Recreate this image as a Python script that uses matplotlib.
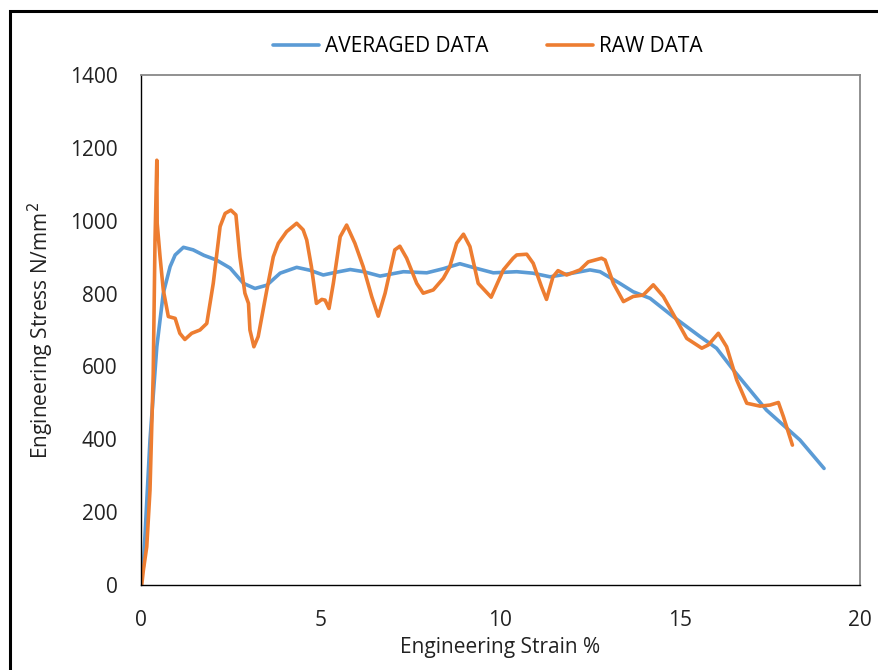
import matplotlib.pyplot as plt
from matplotlib.patches import Rectangle

plt.rcParams['font.family'] = ['Open Sans', 'DejaVu Sans']

# averaged curve (strain %, stress N/mm2)
avg_strain = [0.0, 0.065, 0.25, 0.44, 0.62, 0.81, 0.95, 1.18, 1.45, 1.75, 2.1, 2.48, 2.85,
              3.17, 3.5, 3.87, 4.33, 4.7, 5.07, 5.4, 5.82, 6.2, 6.65, 7.3, 7.95, 8.4,
              8.87, 9.3, 9.8, 10.45, 10.9, 11.38, 12.0, 12.49, 12.77, 13.32, 13.69,
              14.16, 14.8, 15.55, 16.01, 16.48, 17.4, 18.33, 19.0]
avg_stress = [20, 50, 398, 654, 801, 874, 906, 927, 920, 905, 892, 870, 828,
              814, 823, 856, 872, 864, 851, 858, 866, 860, 848, 860, 857, 868,
              882, 870, 857, 860, 856, 846, 856, 865, 860, 828, 805,
              787, 737, 682, 650, 590, 480, 398, 320]

# raw curve
raw_strain = [0.02, 0.065, 0.16, 0.25, 0.34, 0.39, 0.44, 0.45, 0.53, 0.62, 0.76, 0.95,
              1.08, 1.22, 1.41, 1.64, 1.83, 2.01, 2.2, 2.34, 2.5, 2.64, 2.75, 2.89,
              2.99, 3.03, 3.14, 3.26, 3.5, 3.68, 3.82, 4.05, 4.33, 4.51, 4.61, 4.74,
              4.88, 5.03, 5.12, 5.23, 5.35, 5.54, 5.72, 5.95, 6.18, 6.42, 6.6, 6.79,
              7.06, 7.2, 7.39, 7.67, 7.85, 8.13, 8.41, 8.59, 8.78, 8.97, 9.15, 9.38,
              9.74, 10.08, 10.35, 10.45, 10.73, 10.91, 11.14, 11.28, 11.46, 11.6, 11.84,
              12.21, 12.44, 12.81, 12.91, 13.04, 13.14, 13.42, 13.69, 13.97, 14.25,
              14.53, 14.9, 15.18, 15.6, 15.78, 16.06, 16.29, 16.57, 16.85, 17.22,
              17.5, 17.73, 17.87, 18.12]
raw_stress = [0, 40, 105, 260, 580, 947, 1166, 993, 901, 810, 737, 732,
              691, 674, 691, 700, 718, 828, 984, 1020, 1029, 1016, 901, 801,
              773, 700, 654, 682, 810, 901, 938, 970, 993, 975, 947, 874,
              773, 784, 782, 759, 828, 956, 988, 938, 874, 791, 738, 801,
              920, 930, 897, 828, 801, 810, 842, 874, 938, 963, 929, 828,
              790, 865, 897, 906, 908, 883, 819, 784, 846, 863, 851,
              865, 887, 897, 892, 856, 828, 778, 792, 796, 824,
              792, 727, 677, 650, 659, 691, 654, 563, 499, 491,
              494, 501, 462, 384]

xticks = [0, 5, 10, 15, 20]
yticks = [0, 200, 400, 600, 800, 1000, 1200, 1400]

fig = plt.figure(figsize=(8.79, 6.7), dpi=100)
ax = fig.add_axes([141/879, 1 - 585/670, (860 - 141)/879, (585 - 75)/670])

l1, = ax.plot(avg_strain, avg_stress, color='#5B9BD5', lw=2.6, label='AVERAGED DATA',
              solid_capstyle='round', solid_joinstyle='round')
l2, = ax.plot(raw_strain, raw_stress, color='#ED7D31', lw=2.6, label='RAW DATA',
              solid_capstyle='round', solid_joinstyle='round')

ax.set_xlim(0, 20)
ax.set_ylim(0, 1400)
ax.set_xticks(xticks)
ax.set_yticks(yticks)
ax.tick_params(length=0, labelsize=15, colors='#222222')
ax.tick_params(axis='x', pad=18)
ax.tick_params(axis='y', pad=17)
for s in ['top', 'right']:
    ax.spines[s].set_color('#888888')
    ax.spines[s].set_linewidth(1.3)
for s in ['left', 'bottom']:
    ax.spines[s].set_color('black')
    ax.spines[s].set_linewidth(1.0)

ax.set_xlabel('Engineering Strain %', fontsize=15, labelpad=4, color='#222222')
ax.set_ylabel('Engineering Stress N/mm$^2$', fontsize=15, labelpad=10, color='#222222')

fig.legend(handles=[l1, l2], loc='center', bbox_to_anchor=(488/879, 1 - 47/670),
           ncol=2, frameon=False, fontsize=15, handlelength=2.2, handletextpad=0.3,
           columnspacing=2.8)

# outer frame around the chart
fig.patches.append(Rectangle((10/879, -0.2), 1.2, 1.2 - 11/670, transform=fig.transFigure,
                             fill=False, edgecolor='black', linewidth=2.2))

fig.savefig('out.png', dpi=100)
